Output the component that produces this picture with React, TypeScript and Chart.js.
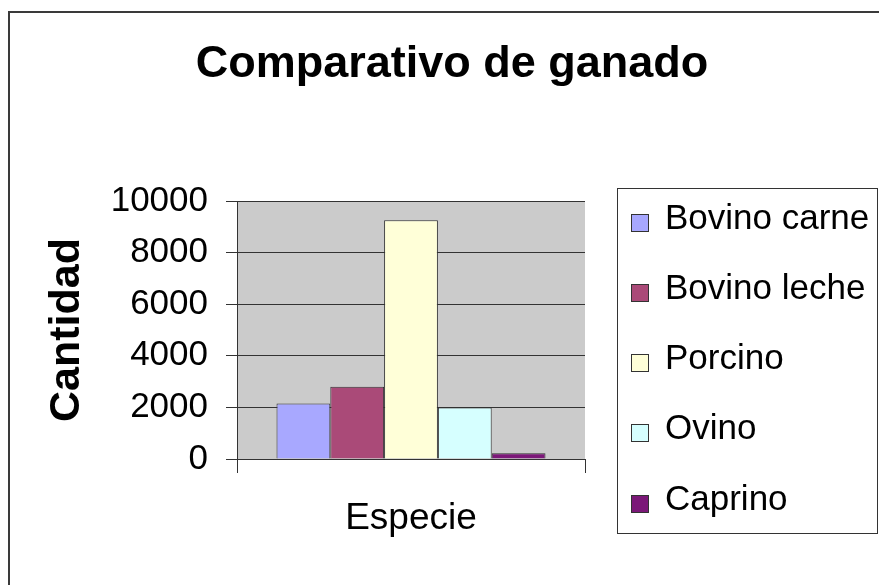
import React, { useEffect, useRef } from "react";
import { Chart, registerables } from "chart.js";

Chart.register(...registerables);

const TITLE = "Comparativo de ganado";
const Y_TITLE = "Cantidad";
const CATEGORIES = ["Especie"];
const SERIES = ["Bovino carne", "Bovino leche", "Porcino", "Ovino", "Caprino"];
const VALUES = [2150, 2800, 9250, 2000, 220];
const COLORS = ["#a8a8ff", "#aa4a78", "#ffffd8", "#d6ffff", "#7b1878"];
const Y_MIN = 0;
const Y_MAX = 10000;
const Y_STEP = 2000;

const FONT = "'Liberation Sans', Arial, sans-serif";

const W = 879;
const H = 585;

const decorPlugin = {
  id: "decor",
  beforeDraw(chart: any) {
    const { ctx, chartArea } = chart;
    ctx.save();
    ctx.fillStyle = "#ffffff";
    ctx.fillRect(0, 0, chart.width, chart.height);
    ctx.fillStyle = "#cbcbcb";
    ctx.fillRect(
      chartArea.left,
      chartArea.top,
      chartArea.right - chartArea.left,
      chartArea.bottom - chartArea.top
    );
    ctx.restore();
  },
  afterDraw(chart: any) {
    const { ctx } = chart;
    ctx.save();
    // outer frame
    ctx.strokeStyle = "#3a3a3a";
    ctx.lineWidth = 2;
    ctx.strokeRect(9, 12, chart.width + 20, chart.height + 20);
    // legend box
    ctx.lineWidth = 1;
    ctx.strokeStyle = "#333333";
    ctx.strokeRect(617.5, 188.5, 260, 345);
    const ds = chart.data.datasets;
    ctx.font = `35px ${FONT}`;
    ctx.textBaseline = "middle";
    ctx.textAlign = "left";
    for (let i = 0; i < ds.length; i++) {
      const cy = Math.round(222.5 + 70.3 * i);
      ctx.fillStyle = ds[i].backgroundColor;
      ctx.fillRect(631, cy - 9, 18, 18);
      ctx.strokeStyle = "#333333";
      ctx.strokeRect(631.5, cy - 8.5, 17, 17);
      ctx.fillStyle = "#000000";
      ctx.fillText(ds[i].label, 665, cy - 4);
    }
    ctx.restore();
  },
};

export default function App() {
  const ref = useRef<HTMLCanvasElement | null>(null);

  useEffect(() => {
    const canvas = ref.current;
    if (!canvas) return;
    const chart = new Chart(canvas, {
      type: "bar",
      data: {
        labels: CATEGORIES,
        datasets: SERIES.map((name, i) => ({
          label: name,
          data: [VALUES[i]],
          backgroundColor: COLORS[i],
          borderColor: "#333333",
          borderWidth: 1,
        })),
      },
      options: {
        animation: false,
        responsive: false,
        devicePixelRatio: 1,
        layout: { padding: { left: 25, right: 0, top: 0, bottom: 0 } },
        datasets: {
          bar: { categoryPercentage: 0.773, barPercentage: 1 },
        },
        plugins: {
          legend: { display: false },
          tooltip: { enabled: false },
          title: {
            display: true,
            text: TITLE,
            color: "#000000",
            font: { family: FONT, size: 45, weight: "bold", lineHeight: 1.2 },
            padding: { top: 38, bottom: 109 },
          },
        },
        scales: {
          x: {
            type: "category",
            offset: true,
            grid: {
              display: true,
              drawOnChartArea: false,
              drawTicks: true,
              tickLength: 14,
              offset: true,
              color: "#333333",
            },
            border: { display: true, color: "#333333", width: 1 },
            ticks: {
              color: "#000000",
              padding: 24,
              font: { family: FONT, size: 37, lineHeight: 1.2 },
            },
            afterFit(scale: any) {
              scale.height = 126;
            },
          },
          y: {
            type: "linear",
            position: "left",
            min: Y_MIN,
            max: Y_MAX,
            grid: {
              color: "#333333",
              lineWidth: 1,
              drawTicks: true,
              tickLength: 11,
            },
            border: { display: true, color: "#333333", width: 1 },
            ticks: {
              stepSize: Y_STEP,
              color: "#000000",
              padding: 18,
              font: { family: FONT, size: 35, lineHeight: 1.2 },
              callback: (v: any) => String(v),
            },
            title: {
              display: true,
              text: Y_TITLE,
              color: "#000000",
              font: { family: FONT, size: 43, weight: "bold", lineHeight: 1.2 },
              padding: { top: 16, bottom: 0 },
            },
            afterFit(scale: any) {
              scale.width = 212;
            },
          },
          yRight: {
            type: "linear",
            position: "right",
            display: true,
            grid: { display: false, drawTicks: false },
            border: { display: false },
            ticks: { display: false },
            afterFit(scale: any) {
              scale.width = 294;
            },
          },
        },
      },
      plugins: [decorPlugin],
    });
    return () => chart.destroy();
  }, []);

  return (
    <div style={{ position: "absolute", left: 0, top: 0, width: W, height: H }}>
      <canvas ref={ref} width={W} height={H} style={{ width: W, height: H, display: "block" }} />
    </div>
  );
}
